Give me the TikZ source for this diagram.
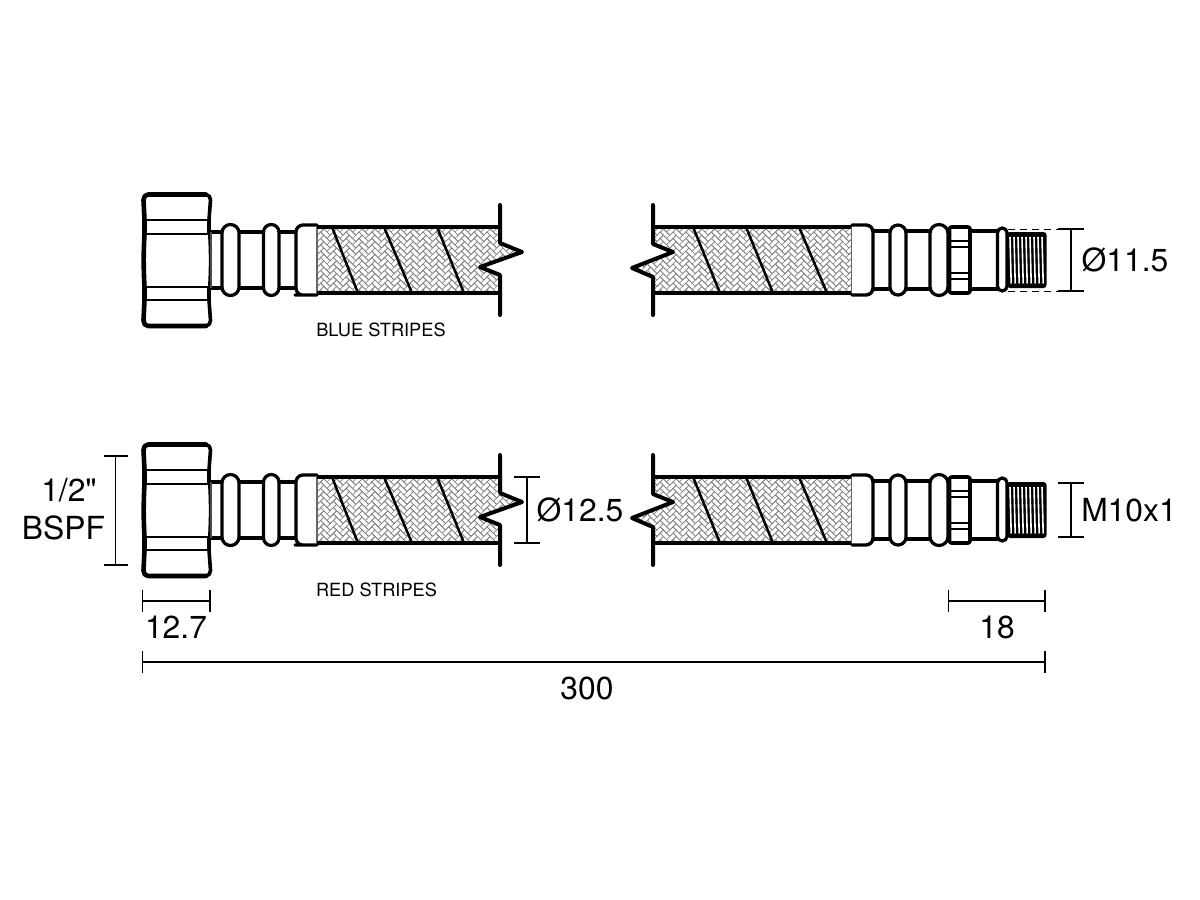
\documentclass[tikz,border=0pt]{standalone}
\usepackage{fontspec}
\setmainfont{TeX Gyre Heros}
\newfontfamily\plainfont{TeX Gyre Heros}
\newcommand{\bigsz}{\fontsize{31.8}{36}\selectfont}
\newcommand{\smallsz}{\fontsize{18.2}{20}\selectfont}
\tikzset{
  thick line/.style={line width=4.4pt,line cap=round,line join=round},
  mid line/.style={line width=3.2pt,line cap=round,line join=round},
  thin line/.style={line width=1.8pt},
  stripeline/.style={line width=2.5pt},
  weave/.style={line width=0.65pt,draw=black!48},
  dimline/.style={line width=1.7pt},
  biglabel/.style={font=\bigsz\plainfont,inner sep=0pt},
  smalllabel/.style={font=\smallsz\plainfont,inner sep=0pt},
  roundpart/.style={mid line,fill=white,rounded corners=8pt},
}
% herringbone weave inside the current clip: #1 x start, #2 number of columns
\newcommand{\weavefill}[2]{%
  \foreach \c in {0,...,#2}{%
    \foreach \r in {-2,...,12}{%
      \pgfmathsetmacro{\ox}{#1+\c*12.8}
      \pgfmathsetmacro{\oy}{216+\r*6.4}
      \draw[weave] (\ox,\oy) -- ++(6.4,6.4) -- ++(-3.2,3.2) -- ++(-6.4,-6.4) -- cycle
        (\ox+9.6,\oy+3.2) -- ++(3.2,3.2) -- ++(-6.4,6.4) -- ++(-3.2,-3.2) -- cycle;
    }%
  }%
}
\newcommand{\hoserow}{%
  % left nut
  \fill[white] (147,194.5) -- (207,194.5) -- (210,199) -- (209,220) -- (209,300) -- (210,321) -- (207,326) -- (147,326) -- (143,321) -- (143,199) -- cycle;
  \draw[thick line,line width=4.6pt] (206,194.5) -- (148,194.5) to[out=180,in=90] (143.5,200) -- (144.5,220) -- (144.5,234)
     to[out=-93,in=93] (144.5,287) -- (144.5,300) -- (143.5,320.5) to[out=-90,in=180] (148,326) -- (206,326);
  \draw[mid line,line width=3.6pt] (206,194.5) to[out=0,in=90] (210.5,200) -- (209,220) -- (209,234);
  \draw[mid line,line width=3.6pt] (209,287) -- (209,300) -- (210.5,320.5) to[out=-90,in=0] (206,326);
  \draw[line width=2pt] (209,234) to[out=-87,in=87] (209,287);
  \draw[thin line] (146,220) -- (208,220) (146,234) -- (208,234) (146,287) -- (208,287) (146,300) -- (208,300);
  % neck and body of the left fitting
  \draw[mid line] (211,232) -- (296,232) (211,288) -- (296,288);
  \draw[line width=1.2pt,black!70] (211,232) -- (211,288);
  \draw[roundpart,rounded corners=8.4pt] (222,224.5) rectangle (239,295.5);
  \draw[roundpart,rounded corners=7.7pt] (263.5,224.5) rectangle (279,295.5);
  \draw[mid line,fill=white] (317,225) -- (302,225) [rounded corners=7pt] -- (296,225) -- (296,295) -- (302,295) [sharp corners] -- (317,295);
  % hoses
  \begin{scope}
    \clip (317,227) -- (500,227) -- (500,243) -- (522,252) -- (480,267) -- (500,275) -- (500,293) -- (317,293) -- cycle;
    \weavefill{311}{15}
  \end{scope}
  \begin{scope}
    \clip (653,227) -- (852,227) -- (852,293) -- (653,293) -- (653,277) -- (632,268) -- (673,252) -- (653,244) -- cycle;
    \weavefill{625}{18}
  \end{scope}
  \draw[line width=1.1pt,black!60] (317,227) -- (317,293);
  \draw[stripeline] (332,227) -- (358,293) (384,227) -- (412,293) (437,227) -- (464,293);
  \draw[stripeline] (693,227) -- (720,293) (746,227) -- (773,293) (799,227) -- (827,293);
  \draw[thick line,line cap=butt] (317,227) -- (500,227) (317,293) -- (500,293);
  \draw[thick line,line cap=butt] (653,227) -- (852,227) (653,293) -- (852,293);
  % break ends
  \draw[mid line,line width=4pt] (500,205) -- (500,243) -- (522,252) -- (480,267) -- (500,275) -- (500,315);
  \draw[mid line,line width=4pt] (653,205) -- (653,244) -- (673,252) -- (632,268) -- (653,277) -- (653,315);
  % right fitting
  \draw[mid line] (873,231) -- (997,231) (873,289) -- (997,289);
  \draw[line width=1.1pt,black!60] (852,227) -- (852,293);
  \draw[thick line,fill=white,rounded corners=7pt,line width=3.4pt] (852,225) -- (873,225) -- (873,295) -- (852,295);
  \draw[roundpart,rounded corners=7.9pt] (890,225) rectangle (906,295);
  \draw[roundpart,rounded corners=8.9pt] (930,224.5) rectangle (948,295.5);
  \draw[thick line,fill=white,line width=3.6pt,rounded corners=2pt] (949.5,227) -- (970,227) -- (970,293) -- (949.5,293) -- cycle;
  \draw[thin line] (951,241) -- (969,241) (951,247) -- (969,247) (951,273) -- (969,273) (951,279) -- (969,279);
  \draw[roundpart,rounded corners=4.7pt] (997.5,228) rectangle (1007,291);
  % thread
  \fill[black,rounded corners=3pt] (1007,232) -- (1046.5,232) -- (1046.5,288) -- (1007,288) -- cycle;
  \foreach \t in {1010,1014,...,1042}{%
    \draw[white,line width=1.6pt] (\t,237) -- (\t+1.2,283.5);
  }
}
\begin{document}
\begin{tikzpicture}[x=1pt,y=-1pt]
  \useasboundingbox (0,0) rectangle (1200,900);
  \fill[white] (0,0) rectangle (1200,900);
  \hoserow
  \begin{scope}[yshift=-250pt]
    \hoserow
  \end{scope}
  % row 1 dimension
  \draw[line width=1pt,dashed,dash pattern=on 7pt off 5pt] (1008,229) -- (1058,229) (1008,291) -- (1058,291);
  \draw[dimline] (1058,229) -- (1084,229) (1058,291) -- (1084,291) (1071,229) -- (1071,291);
  \node[biglabel] (d115) at (1125,260) {Ø11.5};
  \node[smalllabel] (blue) at (381,329.5) {BLUE STRIPES};
  % row 2 dimensions
  \draw[dimline] (1058,483) -- (1084,483) (1058,537) -- (1084,537) (1071,483) -- (1071,537);
  \node[biglabel] (m10) at (1129,510) {M10x1};
  \draw[dimline] (514,477) -- (540,477) (514,543) -- (540,543) (527,477) -- (527,543);
  \node[biglabel] (d125) at (580,510) {Ø12.5};
  \node[smalllabel] (red) at (376.5,589.5) {RED STRIPES};
  \draw[dimline] (104,456) -- (128,456) (104,565) -- (128,565) (115.5,456) -- (115.5,565);
  \node[biglabel] (half) at (69,490) {1/2"};
  \node[biglabel] (bspf) at (63.5,528) {BSPF};
  % bottom dimensions
  \draw[dimline] (142.5,590) -- (142.5,612) (210,590) -- (210,612) (142.5,601) -- (210,601);
  \node[biglabel] (d127) at (176,627.5) {12.7};
  \draw[dimline] (948.5,590) -- (948.5,612) (1045,590) -- (1045,612) (948.5,601) -- (1045,601);
  \node[biglabel] (d18) at (997,627.5) {18};
  \draw[dimline] (142.5,651) -- (142.5,673) (1045,651) -- (1045,673) (142.5,662) -- (1045,662);
  \node[biglabel] (d300) at (587,688.5) {300};
\end{tikzpicture}
\end{document}
